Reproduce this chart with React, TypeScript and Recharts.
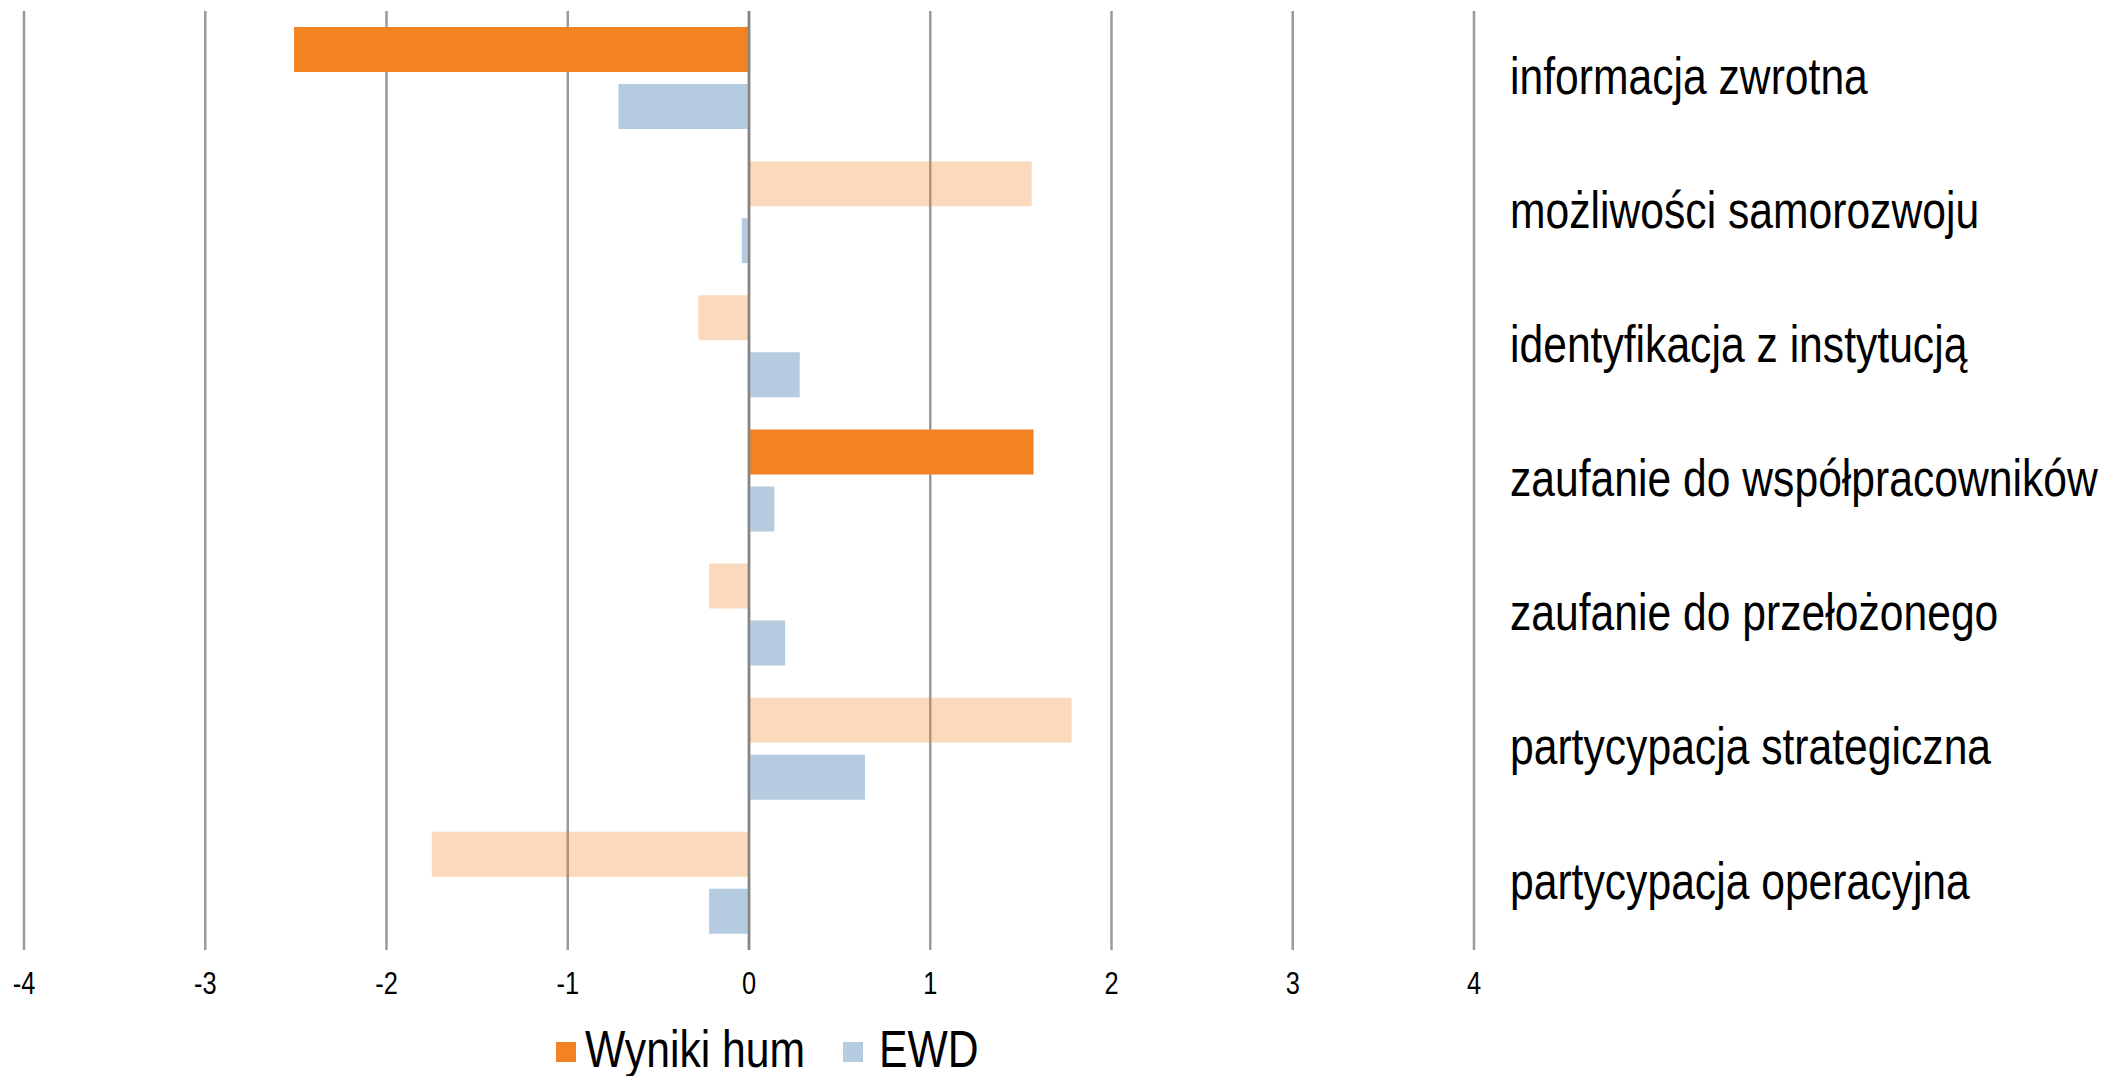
import { BarChart, Bar, XAxis, YAxis, CartesianGrid, ReferenceLine, Legend, Cell } from 'recharts'

const categories = [
    'informacja zwrotna',
    'możliwości samorozwoju',
    'identyfikacja z instytucją',
    'zaufanie do współpracowników',
    'zaufanie do przełożonego',
    'partycypacja strategiczna',
    'partycypacja operacyjna',
]
const wynikiHum = [-2.51, 1.56, -0.28, 1.57, -0.22, 1.78, -1.75]
const ewd = [-0.72, -0.04, 0.28, 0.14, 0.2, 0.64, -0.22]
// dark orange = highlighted result, the rest are drawn faded
const wynikiHumHighlighted = [true, false, false, true, false, false, false]
const xTicks = [-4, -3, -2, -1, 0, 1, 2, 3, 4]
const seriesNames = ['Wyniki hum', 'EWD']

const ORANGE = '#F28222'
const BLUE = '#B5CCE0'
const FONT = '"Liberation Sans", Arial, sans-serif'
// the source uses a narrow face, so squeeze the text horizontally
const SQUEEZE = 0.82

const data = categories.map((name, i) => ({
    name,
    hum: wynikiHum[i],
    ewd: ewd[i],
}))

const CategoryTick = (props: any) => {
    const { x, y, payload } = props
    return (
        <g transform={`translate(${x},${y})`}>
            <text transform={`scale(${SQUEEZE} 1)`} x={0} y={0} dy="0.3em" textAnchor="start" fill="#000" fontSize={52} fontFamily={FONT}>
                {payload.value}
            </text>
        </g>
    )
}

const ValueTick = (props: any) => {
    const { x, y, payload } = props
    return (
        <g transform={`translate(${x},${y})`}>
            <text transform={`scale(${SQUEEZE} 1)`} x={0} y={0} dy="0.71em" textAnchor="middle" fill="#000" fontSize={31} fontFamily={FONT}>
                {payload.value}
            </text>
        </g>
    )
}

const legendPos = [
    { marker: 0, text: 29 },
    { marker: 287, text: 323 },
]

const renderLegend = () => (
    <div style={{ position: 'relative', height: 70, fontFamily: FONT, fontSize: 52, color: '#000' }}>
        {seriesNames.map((n, i) => (
            <div key={n}>
                <span style={{ position: 'absolute', left: legendPos[i].marker, top: 36, width: 20, height: 20, background: i === 0 ? ORANGE : BLUE }} />
                <span style={{ position: 'absolute', left: legendPos[i].text, top: 17, lineHeight: 1, whiteSpace: 'nowrap', transform: `scaleX(${SQUEEZE})`, transformOrigin: 'left center' }}>
                    {n}
                </span>
            </div>
        ))}
    </div>
)

export default function App() {
    return (
        <div style={{ position: 'absolute', left: 0, top: 0, width: 2116, height: 1076, background: '#fff' }}>
            <BarChart
                width={2116}
                height={1076}
                data={data}
                layout="vertical"
                margin={{ top: 11, right: 0, left: 24, bottom: 0 }}
                barSize={45}
                barGap={12}
            >
                <CartesianGrid horizontal={false} stroke="#9a9a9a" strokeWidth={2.5} />
                <XAxis
                    type="number"
                    domain={[-4, 4]}
                    ticks={xTicks}
                    interval={0}
                    axisLine={false}
                    tickLine={false}
                    tickSize={0}
                    tickMargin={22}
                    height={56}
                    tick={<ValueTick />}
                />
                <YAxis
                    type="category"
                    dataKey="name"
                    orientation="right"
                    width={642}
                    axisLine={false}
                    tickLine={false}
                    tickSize={0}
                    tickMargin={36}
                    interval={0}
                    tick={<CategoryTick />}
                />
                <Legend
                    verticalAlign="bottom"
                    content={renderLegend}
                    wrapperStyle={{ left: 556, bottom: 0, width: 520, height: 70 }}
                />
                <Bar dataKey="hum" name="Wyniki hum" fill={ORANGE} isAnimationActive={false}>
                    {data.map((_d, i) => (
                        <Cell key={`hum-${i}`} fill={ORANGE} fillOpacity={wynikiHumHighlighted[i] ? 1 : 0.3} />
                    ))}
                </Bar>
                <Bar dataKey="ewd" name="EWD" fill={BLUE} isAnimationActive={false} />
                <ReferenceLine x={0} stroke="#858585" strokeWidth={2.5} />
            </BarChart>
        </div>
    )
}
